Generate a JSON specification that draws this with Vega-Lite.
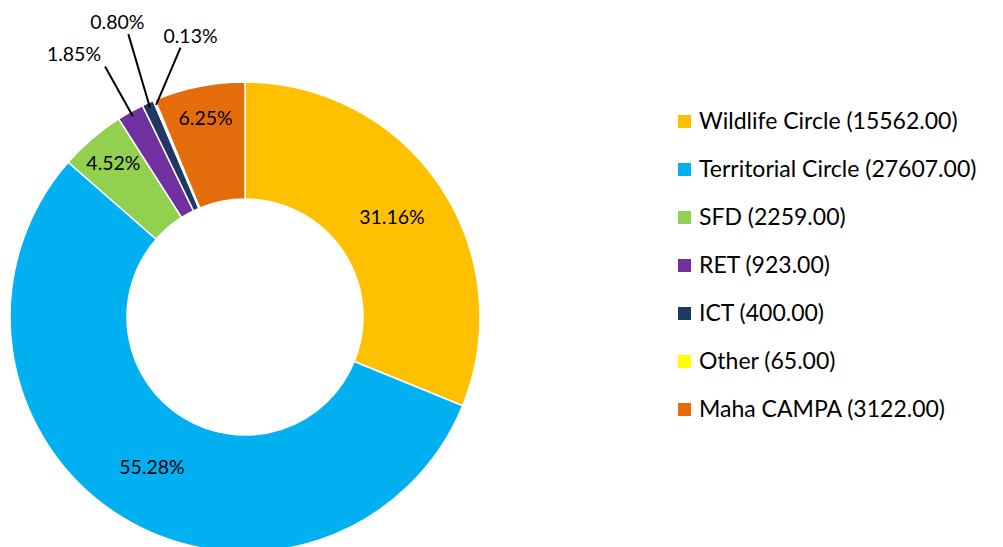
{
  "$schema": "https://vega.github.io/schema/vega-lite/v6.json",
  "width": 1003,
  "height": 547,
  "autosize": {"type": "none"},
  "padding": 0,
  "background": "white",
  "config": {"view": {"stroke": null}, "font": "Lato", "text": {"font": "Lato", "color": "#000000"}},
  "data": {
    "values": [
      {"name": "Wildlife Circle", "value": 15562, "ord": 1},
      {"name": "Territorial Circle", "value": 27607, "ord": 2},
      {"name": "SFD", "value": 2259, "ord": 3},
      {"name": "RET", "value": 923, "ord": 4},
      {"name": "ICT", "value": 400, "ord": 5},
      {"name": "Other", "value": 65, "ord": 6},
      {"name": "Maha CAMPA", "value": 3122, "ord": 7}
    ]
  },
  "transform": [
    {"joinaggregate": [{"op": "sum", "field": "value", "as": "total"}]},
    {"calculate": "datum.value / datum.total", "as": "share"},
    {"window": [{"op": "sum", "field": "share", "as": "cum"}], "sort": [{"field": "ord"}], "frame": [null, 0]},
    {"calculate": "datum.cum - datum.share", "as": "start"},
    {"calculate": "datum.cum - datum.share / 2", "as": "mid"},
    {"calculate": "format(datum.share, '.2%')", "as": "pct"},
    {"calculate": "datum.name + ' (' + format(datum.value, '.2f') + ')'", "as": "label"},
    {"calculate": "2 * PI * datum.mid", "as": "ang"},
    {"calculate": "datum.ang + (datum.name == 'Other' ? 0.162 : (datum.name == 'ICT' ? 0.035 : 0))", "as": "endAng"},
    {"calculate": "datum.name == 'ICT' ? 306 : (datum.name == 'Other' ? 277 : 287)", "as": "endR"},
    {"calculate": "230 * sin(datum.ang)", "as": "lx0"},
    {"calculate": "230 * cos(datum.ang)", "as": "ly0"},
    {"calculate": "datum.endR * sin(datum.endAng)", "as": "lx1"},
    {"calculate": "datum.endR * cos(datum.endAng)", "as": "ly1"}
  ],
  "layer": [
    {
      "mark": {"type": "arc", "innerRadius": 118, "outerRadius": 235, "stroke": "white", "strokeWidth": 1.5},
      "encoding": {
        "x": {"datum": 0, "type": "quantitative", "scale": {"domain": [-245, 758], "nice": false, "zero": false}, "axis": null},
        "y": {"datum": 0, "type": "quantitative", "scale": {"domain": [-230, 317], "nice": false, "zero": false}, "axis": null},
        "theta": {"field": "start", "type": "quantitative", "scale": {"domain": [0, 1], "range": [0, 6.283185307]}, "stack": null},
        "theta2": {"field": "cum"},
        "color": {
          "field": "label",
          "type": "nominal",
          "sort": null,
          "scale": {
            "domain": ["Wildlife Circle (15562.00)", "Territorial Circle (27607.00)", "SFD (2259.00)", "RET (923.00)", "ICT (400.00)", "Other (65.00)", "Maha CAMPA (3122.00)"],
            "range": ["#FFC000", "#00B0F0", "#92D050", "#7030A0", "#1F3864", "#FFFF00", "#E46C0A"]
          },
          "legend": {
            "orient": "none",
            "legendX": 673,
            "legendY": 110,
            "title": null,
            "padding": 0,
            "symbolType": "square",
            "symbolSize": 169,
            "symbolStrokeWidth": 0,
            "labelFont": "Lato",
            "labelFontSize": 23,
            "labelColor": "#000000",
            "labelOffset": 3,
            "labelLimit": 400,
            "rowPadding": 24
          }
        }
      }
    },
    {
      "transform": [{"filter": "datum.share > 0.2"}],
      "mark": {"type": "text", "radius": 177, "fontSize": 19.5, "font": "Lato", "color": "#000000"},
      "encoding": {
        "x": {"datum": 0, "type": "quantitative"},
        "y": {"datum": 0, "type": "quantitative"},
        "theta": {"field": "mid", "type": "quantitative", "stack": null},
        "text": {"field": "pct"}
      }
    },
    {
      "transform": [{"filter": "datum.share > 0.03 && datum.share <= 0.2"}],
      "mark": {"type": "text", "radius": 202, "fontSize": 19.5, "font": "Lato", "color": "#000000"},
      "encoding": {
        "x": {"datum": 0, "type": "quantitative"},
        "y": {"datum": 0, "type": "quantitative"},
        "theta": {"field": "mid", "type": "quantitative", "stack": null},
        "text": {"field": "pct"}
      }
    },
    {
      "transform": [{"filter": "datum.share <= 0.03"}],
      "mark": {"type": "rule", "stroke": "#000000", "strokeWidth": 2},
      "encoding": {
        "x": {"field": "lx0", "type": "quantitative"},
        "y": {"field": "ly0", "type": "quantitative"},
        "x2": {"field": "lx1"},
        "y2": {"field": "ly1"}
      }
    },
    {
      "transform": [{"filter": "datum.name == 'RET'"}],
      "mark": {"type": "text", "fontSize": 19.5, "font": "Lato", "color": "#000000", "align": "right", "baseline": "alphabetic", "dx": -4, "dy": -5},
      "encoding": {
        "x": {"field": "lx1", "type": "quantitative"},
        "y": {"field": "ly1", "type": "quantitative"},
        "text": {"field": "pct"}
      }
    },
    {
      "transform": [{"filter": "datum.name == 'ICT'"}],
      "mark": {"type": "text", "fontSize": 19.5, "font": "Lato", "color": "#000000", "align": "center", "baseline": "alphabetic", "dx": -11, "dy": -5},
      "encoding": {
        "x": {"field": "lx1", "type": "quantitative"},
        "y": {"field": "ly1", "type": "quantitative"},
        "text": {"field": "pct"}
      }
    },
    {
      "transform": [{"filter": "datum.name == 'Other'"}],
      "mark": {"type": "text", "fontSize": 19.5, "font": "Lato", "color": "#000000", "align": "center", "baseline": "alphabetic", "dx": 10, "dy": -5},
      "encoding": {
        "x": {"field": "lx1", "type": "quantitative"},
        "y": {"field": "ly1", "type": "quantitative"},
        "text": {"field": "pct"}
      }
    }
  ]
}
